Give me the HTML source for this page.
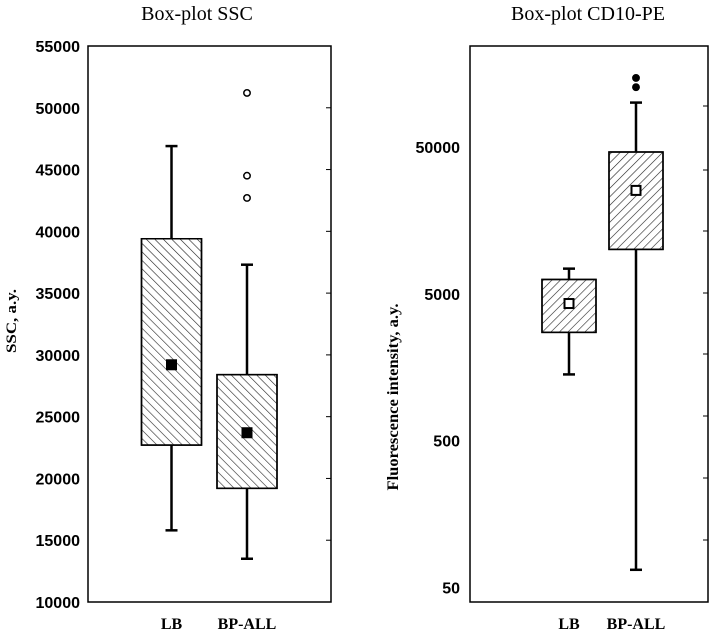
<!DOCTYPE html>
<html><head><meta charset="utf-8"><style>
body{margin:0;background:#fff;}
svg{display:block;font-family:"Liberation Sans",sans-serif;}
.t{font-family:"Liberation Serif",serif;}
</style></head><body>
<svg id="c" width="709" height="630" viewBox="0 0 709 630">
<defs>
<pattern id="hb" width="6" height="6" patternUnits="userSpaceOnUse" patternTransform="rotate(-45)"><line x1="0" y1="0" x2="0" y2="6" stroke="#222" stroke-width="1.2"/></pattern>
<pattern id="hf" width="6" height="6" patternUnits="userSpaceOnUse" patternTransform="rotate(45)"><line x1="0" y1="0" x2="0" y2="6" stroke="#222" stroke-width="1.2"/></pattern>
</defs>
</svg>
<script>
const ns='http://www.w3.org/2000/svg';
const svg=document.getElementById('c');
// Left chart data (SSC)
const sscCategories=['LB','BP-ALL'];
const sscQ1=[22700,19200];
const sscQ3=[39400,28400];
const sscWhiskerLow=[15800,13500];
const sscWhiskerHigh=[46900,37300];
const sscMean=[29200,23700];
const sscOutliers=[[],[51200,44500,42700]];
const sscTicks=[10000,15000,20000,25000,30000,35000,40000,45000,50000,55000];
// Right chart data (CD10-PE, log)
const cdCategories=['LB','BP-ALL'];
const cdQ1=[2735,10050];
const cdQ3=[6270,46300];
const cdWhiskerLow=[1414,66];
const cdWhiskerHigh=[7430,100500];
const cdMean=[4300,25350];
const cdOutliers=[[],[148000,128000]];
const cdTicks=[50,500,5000,50000];

function el(tag,attrs,parent){const e=document.createElementNS(ns,tag);for(const k in attrs)e.setAttribute(k,attrs[k]);(parent||svg).appendChild(e);return e;}

const L={x0:88,x1:331,y0:46,y1:602};
const yL=v=>L.y1-(v-10000)/(55000-10000)*(L.y1-L.y0);
const xL=i=>[171.5,247][i];
const R={x0:470,x1:708,y0:46,y1:602};
const yR=v=>587.5-(Math.log10(v)-Math.log10(50))*146.8;
const xR=i=>[569,636][i];

function frame(F,name){
  const r=el('rect',{x:F.x0,y:F.y0,width:F.x1-F.x0,height:F.y1-F.y0,fill:'none',stroke:'#000','stroke-width':1.5});
  
  
}
frame(L,'ssc-plot-frame');
frame(R,'cd10-plot-frame');

sscTicks.forEach(v=>{
  const y=yL(v);
  const t=el('text',{x:80,y:y+6,'text-anchor':'end','font-size':16,'font-weight':'bold'});
  t.textContent=v;
  
  
  const tk=el('line',{x1:L.x1-5,x2:L.x1,y1:y,y2:y,stroke:'#000','stroke-width':1});
  
  
});
cdTicks.forEach(v=>{
  const y=yR(v);
  const t=el('text',{x:460,y:y+6,'text-anchor':'end','font-size':16,'font-weight':'bold'});
  t.textContent=v;
  
  
});
[106,170,231,293,354,416,478,540].forEach(y=>{
  const tk=el('line',{x1:R.x1-5,x2:R.x1,y1:y,y2:y,stroke:'#000','stroke-width':1});
  
  
});

function boxes(cats,q1,q3,wl,wh,mean,outs,xf,yf,hw,pat,meanFill,outFill,prefix){
  cats.forEach((c,i)=>{
    const x=xf(i);
    const w=el('line',{x1:x,x2:x,y1:yf(wh[i]),y2:yf(wl[i]),stroke:'#000','stroke-width':2.5});
    
    
    [wh[i],wl[i]].forEach(v=>{
      const cap=el('line',{x1:x-6,x2:x+6,y1:yf(v),y2:yf(v),stroke:'#000','stroke-width':2.5});
      
      
    });
    const top=yf(q3[i]),bot=yf(q1[i]);
    const b=el('rect',{x:x-hw,y:top,width:2*hw,height:bot-top,fill:'#fff',stroke:'#000','stroke-width':1.5});
    
    
    const h=el('rect',{x:x-hw,y:top,width:2*hw,height:bot-top,fill:'url(#'+pat+')',stroke:'#000','stroke-width':1.5});
    
    
    const m=el('rect',{x:x-4.5,y:yf(mean[i])-4.5,width:9,height:9,fill:meanFill,stroke:'#000','stroke-width':2});
    
    
    outs[i].forEach(v=>{
      const o=el('circle',{cx:x,cy:yf(v),r:3.2,fill:outFill,stroke:'#000','stroke-width':1.5});
      
      
    });
  });
}
boxes(sscCategories,sscQ1,sscQ3,sscWhiskerLow,sscWhiskerHigh,sscMean,sscOutliers,xL,yL,30,'hb','#000','#fff','ssc');
boxes(cdCategories,cdQ1,cdQ3,cdWhiskerLow,cdWhiskerHigh,cdMean,cdOutliers,xR,yR,27,'hf','#fff','#000','cd10');

function txt(x,y,s,size,name,extra){
  const t=el('text',Object.assign({x:x,y:y,'text-anchor':'middle','font-size':size,class:'t'},extra||{}));
  t.textContent=s;
  
  
  return t;
}
txt(197,20,'Box-plot SSC',20,'ssc-title');
txt(588,20,'Box-plot CD10-PE',20,'cd10-title');
sscCategories.forEach((c,i)=>txt(xL(i),629,c,16,'ssc-x-label',{'font-weight':'bold'}));
cdCategories.forEach((c,i)=>txt(xR(i),629,c,16,'cd10-x-label',{'font-weight':'bold'}));
txt(0,0,'SSC, a.y.',15,'ssc-y-axis-title',{transform:'translate(16,321) rotate(-90)','font-weight':'bold',textLength:64,lengthAdjust:'spacingAndGlyphs'});
txt(0,0,'Fluorescence intensity,  a.y.',16,'cd10-y-axis-title',{transform:'translate(398,397) rotate(-90)','font-weight':'bold',textLength:187,lengthAdjust:'spacingAndGlyphs'});
</script>
</body></html>
